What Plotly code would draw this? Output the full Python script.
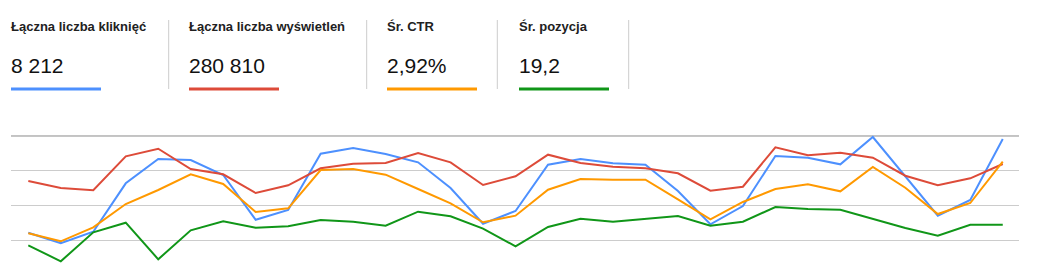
import plotly.graph_objects as go

# ---- data (chart units: gridlines at 0/10/20/30) ----
days = list(range(31))
clicks = [2.19, -0.86, 2.47, 16.39, 23.38, 23.09, 18.78, 5.92, 8.71, 24.91, 26.55,
          24.82, 22.43, 15.04, 4.77, 8.43, 21.74, 23.38, 22.15, 21.74, 14.18,
          4.60, 9.86, 24.25, 23.76, 21.86, 29.71, 18.29, 7.08, 11.59, 29.13]
impressions = [17.05, 15.04, 14.38, 24.16, 26.34, 20.51, 18.98, 13.60, 15.82, 20.71, 22.03,
               22.23, 25.11, 22.43, 15.90, 18.41, 24.62, 22.23, 21.17, 20.71, 19.27,
               14.27, 15.42, 26.75, 24.45, 25.19, 23.76, 18.58, 15.82, 17.83, 21.94]
ctr = [2.01, -0.29, 3.74, 10.44, 14.47, 18.98, 16.19, 8.14, 9.20, 20.22, 20.51,
       18.87, 14.75, 10.64, 5.18, 7.08, 14.55, 17.63, 17.43, 17.43, 11.79,
       6.04, 11.02, 14.75, 16.11, 14.09, 21.08, 15.13, 7.56, 10.73, 22.61]
position = [-1.44, -6.04, 2.30, 5.06, -5.46, 2.88, 5.46, 3.62, 4.03, 5.84, 5.35,
            4.20, 8.23, 6.90, 3.34, -1.73, 3.83, 6.21, 5.35, 6.21, 6.99,
            4.20, 5.35, 9.58, 9.00, 8.80, 6.13, 3.54, 1.32, 4.49, 4.49]

metric_labels = ["Łączna liczba kliknięć", "Łączna liczba wyświetleń", "Śr. CTR", "Śr. pozycja"]
metric_values = ["8 212", "280 810", "2,92%", "19,2"]
colors = ["#4d90fe", "#dd4b39", "#ff9900", "#109618"]
series = [clicks, impressions, ctr, position]

W, H = 1054, 275
L, R, T, B = 11, 1019, 120, 270


def px(x):
    return (x - L) / (R - L)


def py(y):
    return (B - y) / (B - T)


fig = go.Figure()
for s, c, name in zip(series, colors, metric_labels):
    fig.add_trace(go.Scatter(x=days, y=s, mode="lines", name=name,
                             line=dict(color=c, width=2), hoverinfo="skip"))

shapes = []
annotations = []
card_x = [11, 189, 387, 519]
card_w = 90
dividers = [168.7, 366.7, 497.3, 628.7]
for i, (lab, val, col) in enumerate(zip(metric_labels, metric_values, colors)):
    x0 = card_x[i]
    annotations.append(dict(xref="paper", yref="paper", x=px(x0 - 2), y=py(27),
                            xanchor="left", yanchor="middle", showarrow=False,
                            text="<b>" + lab + "</b>",
                            font=dict(family="Liberation Sans, Arial", size=13, color="#212121")))
    annotations.append(dict(xref="paper", yref="paper", x=px(x0 - 2), y=py(65),
                            xanchor="left", yanchor="middle", showarrow=False,
                            text=val,
                            font=dict(family="Liberation Sans, Arial", size=21, color="#111111")))
    shapes.append(dict(type="line", xref="paper", yref="paper",
                       x0=px(x0), x1=px(x0 + card_w), y0=py(89), y1=py(89),
                       line=dict(color=col, width=3)))
for d in dividers:
    shapes.append(dict(type="line", xref="paper", yref="paper",
                       x0=px(d), x1=px(d), y0=py(20), y1=py(89),
                       line=dict(color="#cccccc", width=1)))
# top (darker) grid line
shapes.append(dict(type="line", xref="paper", yref="y", x0=0, x1=1, y0=30, y1=30,
                   line=dict(color="#8a8a8a", width=1), layer="below"))

fig.update_layout(
    width=W, height=H,
    margin=dict(l=L, r=W - R, t=T, b=H - B),
    paper_bgcolor="white", plot_bgcolor="white",
    showlegend=False,
    shapes=shapes, annotations=annotations,
    xaxis=dict(range=[-0.533, 30.50], showgrid=False, zeroline=False,
               showticklabels=False, ticks="", fixedrange=True),
    yaxis=dict(range=[-8.54, 34.60], tickvals=[0, 10, 20], showgrid=True,
               gridcolor="#cccccc", gridwidth=1, zeroline=False,
               showticklabels=False, ticks="", fixedrange=True),
)

fig.write_html("out.html", config={"displayModeBar": False})
